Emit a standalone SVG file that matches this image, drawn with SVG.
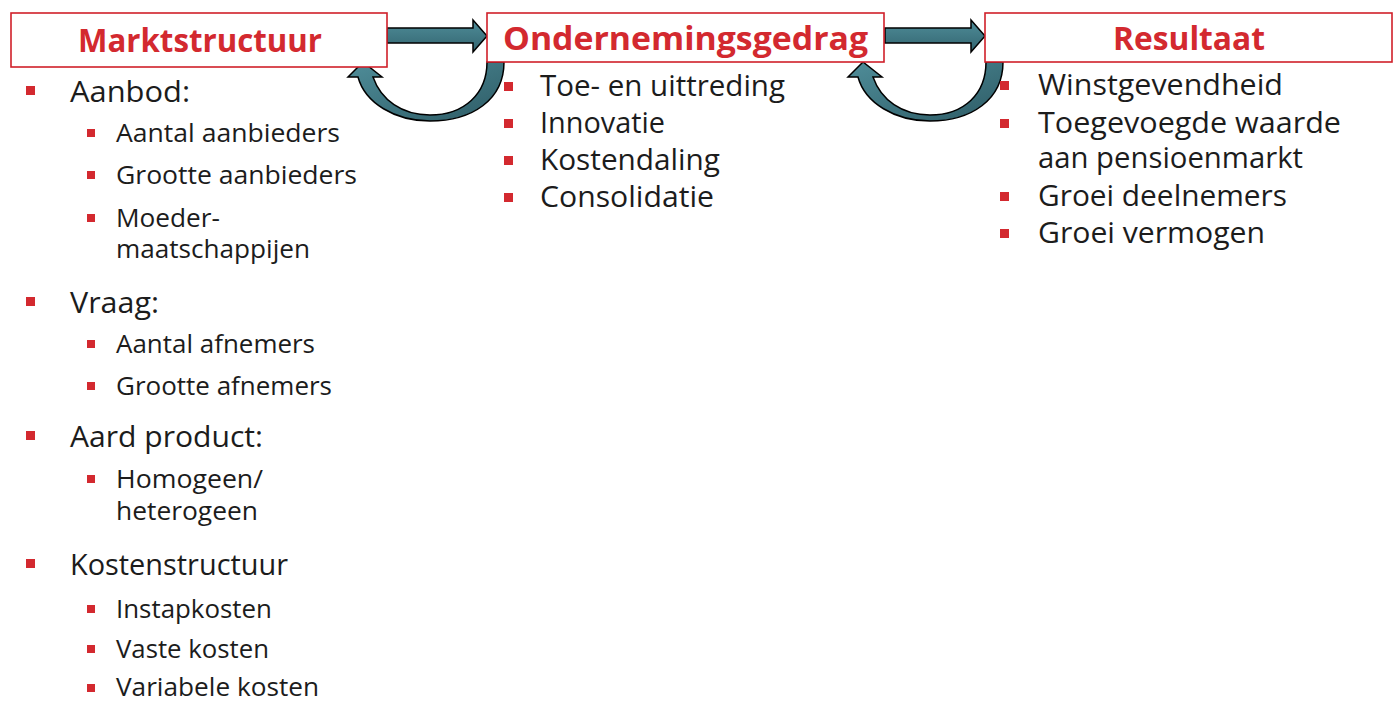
<svg xmlns="http://www.w3.org/2000/svg" width="1397" height="702" viewBox="0 0 1397 702">
<style>
.box{fill:#fff;stroke:#d0202a;stroke-width:1.6}
.title{font-family:"Open Sans","Liberation Sans",sans-serif;font-weight:bold;font-size:32px;fill:#d3292f}
.t1{font-family:"Open Sans","Liberation Sans",sans-serif;font-size:28.5px;fill:#1c1c1c}
.t2{font-family:"Open Sans","Liberation Sans",sans-serif;font-size:25.5px;fill:#1c1c1c}
.b{fill:#d3292f}
.arr{fill:url(#g);stroke:#000;stroke-width:1.5;stroke-linejoin:miter}
</style>
<defs>
<linearGradient id="g" x1="0" y1="0" x2="0" y2="1">
<stop offset="0" stop-color="#4f8d99"/>
<stop offset="1" stop-color="#336570"/>
</linearGradient>
<linearGradient id="gc" x1="0" y1="0" x2="1" y2="1">
<stop offset="0" stop-color="#4f8d99"/>
<stop offset="1" stop-color="#2e5c66"/>
</linearGradient>
</defs>
<rect width="1397" height="702" fill="#fff"/>
<g id="connectors">
<path class="arr" d="M387,28 L473,28 L473,20 L487,36 L473,52 L473,43 L387,43 Z"/>
<path class="arr" d="M885,28 L971,28 L971,20 L985,36 L971,52 L971,43 L885,43 Z"/>
<path class="arr" style="fill:url(#gc)" d="M504,62 C504,100 472,121 430,121 C395,121 365,103 358,77 L348,77 L363,62 L382,77 L373,77 C381,100 402,115 430,115 C464,115 487,94 487,62 Z"/>
<path class="arr" style="fill:url(#gc)" d="M1003,62 C1003,100 971,121 930,121 C895,121 865,103 858,77 L848,77 L863,62 L882,77 L873,77 C881,100 902,115 930,115 C964,115 986,94 986,62 Z"/>
</g>
<g id="marktstructuur">
<rect class="box" x="11" y="13" width="376" height="54"/>
<text class="title" x="78" y="52" textLength="244" lengthAdjust="spacingAndGlyphs">Marktstructuur</text>
<rect class="b" x="26" y="86" width="9" height="9"/>
<text class="t1" x="70" y="102" textLength="120" lengthAdjust="spacingAndGlyphs">Aanbod:</text>
<rect class="b" x="87" y="129" width="8" height="8"/>
<text class="t2" x="116" y="142" textLength="224" lengthAdjust="spacingAndGlyphs">Aantal aanbieders</text>
<rect class="b" x="87" y="171" width="8" height="8"/>
<text class="t2" x="116" y="184" textLength="241" lengthAdjust="spacingAndGlyphs">Grootte aanbieders</text>
<rect class="b" x="87" y="214" width="8" height="8"/>
<text class="t2" x="116" y="227" textLength="104" lengthAdjust="spacingAndGlyphs">Moeder-</text>
<text class="t2" x="116" y="258" textLength="194" lengthAdjust="spacingAndGlyphs">maatschappijen</text>
<rect class="b" x="26" y="297" width="9" height="9"/>
<text class="t1" x="70" y="313" textLength="89" lengthAdjust="spacingAndGlyphs">Vraag:</text>
<rect class="b" x="87" y="340" width="8" height="8"/>
<text class="t2" x="116" y="353" textLength="199" lengthAdjust="spacingAndGlyphs">Aantal afnemers</text>
<rect class="b" x="87" y="382" width="8" height="8"/>
<text class="t2" x="116" y="395" textLength="216" lengthAdjust="spacingAndGlyphs">Grootte afnemers</text>
<rect class="b" x="26" y="431" width="9" height="9"/>
<text class="t1" x="70" y="447" textLength="193" lengthAdjust="spacingAndGlyphs">Aard product:</text>
<rect class="b" x="87" y="475" width="8" height="8"/>
<text class="t2" x="116" y="488" textLength="147" lengthAdjust="spacingAndGlyphs">Homogeen/</text>
<text class="t2" x="116" y="520" textLength="142" lengthAdjust="spacingAndGlyphs">heterogeen</text>
<rect class="b" x="26" y="559" width="9" height="9"/>
<text class="t1" x="70" y="575" textLength="218" lengthAdjust="spacingAndGlyphs">Kostenstructuur</text>
<rect class="b" x="87" y="605" width="8" height="8"/>
<text class="t2" x="116" y="618" textLength="156" lengthAdjust="spacingAndGlyphs">Instapkosten</text>
<rect class="b" x="87" y="645" width="8" height="8"/>
<text class="t2" x="116" y="658" textLength="153" lengthAdjust="spacingAndGlyphs">Vaste kosten</text>
<rect class="b" x="87" y="684" width="8" height="8"/>
<text class="t2" x="116" y="696" textLength="203" lengthAdjust="spacingAndGlyphs">Variabele kosten</text>
</g>
<g id="ondernemingsgedrag">
<rect class="box" x="487" y="13" width="397" height="49"/>
<text class="title" x="503" y="50" textLength="365" lengthAdjust="spacingAndGlyphs">Ondernemingsgedrag</text>
<rect class="b" x="504" y="82" width="9" height="9"/>
<text class="t1" x="540" y="96" textLength="245" lengthAdjust="spacingAndGlyphs">Toe- en uittreding</text>
<rect class="b" x="504" y="119" width="9" height="9"/>
<text class="t1" x="540" y="133" textLength="125" lengthAdjust="spacingAndGlyphs">Innovatie</text>
<rect class="b" x="504" y="156" width="9" height="9"/>
<text class="t1" x="540" y="170" textLength="180" lengthAdjust="spacingAndGlyphs">Kostendaling</text>
<rect class="b" x="504" y="193" width="9" height="9"/>
<text class="t1" x="540" y="207" textLength="174" lengthAdjust="spacingAndGlyphs">Consolidatie</text>
</g>
<g id="resultaat">
<rect class="box" x="985" y="13" width="407" height="49"/>
<text class="title" x="1113" y="50" textLength="152" lengthAdjust="spacingAndGlyphs">Resultaat</text>
<rect class="b" x="1000" y="81" width="9" height="9"/>
<text class="t1" x="1038" y="95" textLength="245" lengthAdjust="spacingAndGlyphs">Winstgevendheid</text>
<rect class="b" x="1000" y="119" width="9" height="9"/>
<text class="t1" x="1038" y="133" textLength="303" lengthAdjust="spacingAndGlyphs">Toegevoegde waarde</text>
<text class="t1" x="1038" y="168" textLength="265" lengthAdjust="spacingAndGlyphs">aan pensioenmarkt</text>
<rect class="b" x="1000" y="192" width="9" height="9"/>
<text class="t1" x="1038" y="206" textLength="249" lengthAdjust="spacingAndGlyphs">Groei deelnemers</text>
<rect class="b" x="1000" y="229" width="9" height="9"/>
<text class="t1" x="1038" y="243" textLength="227" lengthAdjust="spacingAndGlyphs">Groei vermogen</text>
</g>
</svg>
